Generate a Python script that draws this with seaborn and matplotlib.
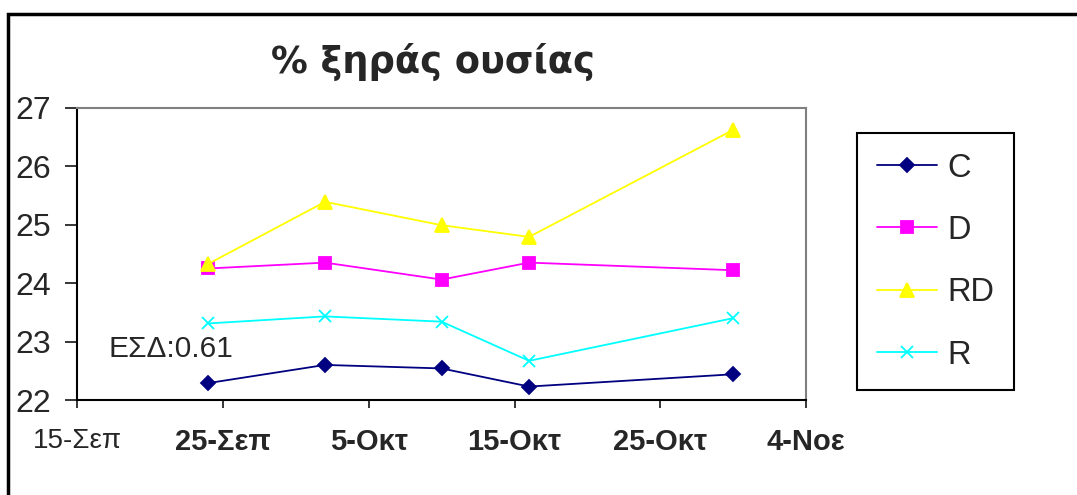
import pandas as pd
import matplotlib
matplotlib.use('Agg')
import matplotlib.pyplot as plt
from matplotlib.patches import Rectangle
import seaborn as sns

# Δεδομένα
dates = ['2005-09-24', '2005-10-02', '2005-10-10', '2005-10-16', '2005-10-30']
c_vals = [22.29, 22.60, 22.54, 22.23, 22.44]
d_vals = [24.25, 24.35, 24.06, 24.35, 24.22]
rd_vals = [24.33, 25.39, 24.99, 24.79, 26.62]
r_vals = [23.31, 23.43, 23.34, 22.67, 23.40]
series_names = ['C', 'D', 'RD', 'R']
tick_dates = ['2005-09-15', '2005-09-25', '2005-10-05', '2005-10-15', '2005-10-25', '2005-11-04']
tick_labels = ['15-Σεπ', '25-Σεπ', '5-Οκτ', '15-Οκτ', '25-Οκτ', '4-Νοε']
note = 'ΕΣΔ:0.61'

df = pd.DataFrame({
    'date': pd.to_datetime(dates * 4),
    'value': c_vals + d_vals + rd_vals + r_vals,
    'series': [s for s in series_names for _ in dates],
})

sns.set_style('white')
plt.rcParams['font.family'] = ['Liberation Sans', 'DejaVu Sans']

W, H = 1077, 495
fig = plt.figure(figsize=(W / 100, H / 100), dpi=100)
ax = fig.add_axes([77.3 / W, 1 - 400 / H, (806 - 77.3) / W, (400 - 107.7) / H])

colors = {'C': '#000080', 'D': '#FF00FF', 'RD': '#FFFF00', 'R': '#00FFFF'}
markers = {'C': 'D', 'D': 's', 'RD': '^', 'R': 'x'}
msizes = {'C': 7.5, 'D': 8.5, 'RD': 10, 'R': 8}
for s in series_names:
    sub = df[df['series'] == s]
    sns.lineplot(data=sub, x='date', y='value', color=colors[s], marker=markers[s],
                 markersize=msizes[s], markeredgewidth=1.3, markeredgecolor=colors[s],
                 linewidth=1.3, label=s, ax=ax)

ax.set_xlim(pd.Timestamp(tick_dates[0]), pd.Timestamp(tick_dates[-1]))
ax.set_ylim(22, 27)
ax.set_yticks(range(22, 28))
ax.set_xticks(pd.to_datetime(tick_dates))
ax.set_xticklabels(tick_labels)
ax.set_xlabel('')
ax.set_ylabel('')

for lab in ax.get_xticklabels()[1:]:
    lab.set_fontweight('bold')
    lab.set_fontsize(21)
ax.get_xticklabels()[0].set_fontsize(20)

ax.tick_params(axis='y', direction='out', length=9, width=1.3, pad=10, labelsize=23, left=True)
ax.tick_params(axis='x', direction='out', length=6, width=1.3, pad=14, bottom=True)

for side in ['left', 'bottom']:
    ax.spines[side].set_color('black')
    ax.spines[side].set_linewidth(1.5)
for side in ['top', 'right']:
    ax.spines[side].set_color('#808080')
    ax.spines[side].set_linewidth(1.5)

ax.text(pd.Timestamp('2005-09-17 04:00'), 22.87, note, fontsize=21.5, va='center', ha='left')

fig.text(433 / W, 1 - 62 / H, '% ξηράς ουσίας', fontsize=26.5, fontweight='bold',
         family='DejaVu Sans', ha='center', va='center')

leg = ax.legend(loc='upper left', bbox_to_anchor=(857 / W, 1 - 133 / H),
                bbox_transform=fig.transFigure, borderaxespad=0, fontsize=23.5,
                frameon=True, fancybox=False, edgecolor='black', framealpha=1,
                handlelength=1.84, handletextpad=0.33, labelspacing=0.96,
                borderpad=0.6)
leg.get_frame().set_linewidth(1.5)

# рамка фигуры
fig.patches.append(Rectangle((8 / W, -0.1), 1.2, 1 - 14 / H + 0.1, transform=fig.transFigure,
                             fill=False, edgecolor='black', linewidth=2.5))

fig.savefig('out.png', dpi=100)
